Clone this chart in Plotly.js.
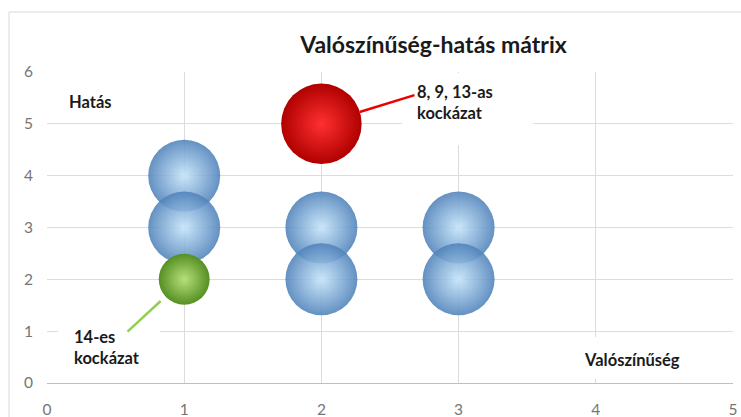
<!DOCTYPE html>
<html>
<head>
<meta charset="utf-8">
<script src="https://cdn.plot.ly/plotly-3.0.1.min.js"></script>
<style>
html,body{margin:0;padding:0;background:#fff;}
#chart{width:741px;height:417px;}
</style>
</head>
<body>
<div id="chart"></div>
<script>
// Data
const blueX = [1, 1, 2, 2, 3, 3];
const blueY = [4, 3, 3, 2, 3, 2];
const blueV = [8, 8, 8, 8, 8, 8];
const redX = [2];
const redY = [5];
const redV = [10];
const greenX = [1];
const greenY = [2];
const greenV = [4];
const xTicks = [0, 1, 2, 3, 4, 5];
const yTicks = [0, 1, 2, 3, 4, 5, 6];
const titleText = 'Valószínűség-hatás mátrix';
const xLabel = 'Valószínűség';
const yLabel = 'Hatás';
const redLabel = '8, 9, 13-as<br>kockázat';
const greenLabel = '14-es<br>kockázat';

const FONT = 'Lato, "Open Sans", sans-serif';
const SREF = 8 / 2592;

function bubble(x, y, v, edge, center, op) {
  return {
    type: 'scatter', mode: 'markers', x: x, y: y, hoverinfo: 'skip',
    marker: {
      size: v, sizemode: 'area', sizeref: SREF,
      color: edge, opacity: op,
      gradient: {type: 'radial', color: center},
      line: {width: 0}
    }
  };
}

const traces = [
  bubble(blueX, blueY, blueV, '#4f82ba', '#c4e4fa', 0.88),
  bubble(greenX, greenY, greenV, '#558f24', '#b8e07a', 1),
  bubble(redX, redY, redV, '#b00000', '#ff3030', 1)
];

const lblFont = {family: FONT, size: 16.5, color: '#1a1a1a', weight: 'bold'};

const layout = {
  width: 741, height: 417,
  margin: {l: 47, r: 8, t: 72, b: 34},
  paper_bgcolor: 'rgba(0,0,0,0)', plot_bgcolor: 'rgba(0,0,0,0)',
  showlegend: false,
  title: {
    text: '<b>' + titleText + '</b>',
    font: {family: FONT, size: 23, color: '#1a1a1a'},
    xref: 'container', yref: 'container',
    x: 0.585, xanchor: 'center', y: 0.892, yanchor: 'middle'
  },
  xaxis: {
    range: [0, 5], tickvals: xTicks, ticktext: xTicks.map(String),
    showgrid: true, gridcolor: '#dcdcdc', gridwidth: 1,
    zeroline: false, showline: true, linecolor: '#bfbfbf', linewidth: 1,
    ticks: '', ticklabelstandoff: 12,
    tickfont: {family: FONT, size: 15.5, color: '#757575'},
    fixedrange: true
  },
  yaxis: {
    range: [0, 6], tickvals: yTicks, ticktext: yTicks.map(String),
    showgrid: true, gridcolor: '#dcdcdc', gridwidth: 1,
    zeroline: false, showline: false,
    ticks: '', ticklabelstandoff: 13,
    tickfont: {family: FONT, size: 15.5, color: '#757575'},
    fixedrange: true
  },
  shapes: [
    {type: 'rect', xref: 'paper', yref: 'paper', x0: -0.0554, x1: 1.2, y0: -0.5, y1: 1.193,
     line: {color: '#d9d9d9', width: 1}, fillcolor: 'rgba(0,0,0,0)', layer: 'below'}
  ],
  annotations: [
    // blank label boxes
    {x: 3.065, y: 5.287, xref: 'x', yref: 'y', text: ' ', showarrow: false,
     width: 131, height: 72, bgcolor: '#ffffff', borderpad: 0, borderwidth: 0,
     xanchor: 'center', yanchor: 'middle'},
    {x: 0.452, y: 0.733, xref: 'x', yref: 'y', text: ' ', showarrow: false,
     width: 102, height: 52, bgcolor: '#ffffff', borderpad: 0, borderwidth: 0,
     xanchor: 'center', yanchor: 'middle'},
    {x: 4.322, y: 0.482, xref: 'x', yref: 'y', text: ' ', showarrow: false,
     width: 140, height: 42, bgcolor: '#ffffff', borderpad: 0, borderwidth: 0,
     xanchor: 'center', yanchor: 'middle'},
    // texts
    {x: 2.689, y: 5.412, xref: 'x', yref: 'y', text: '<b>' + redLabel + '</b>', showarrow: false,
     xanchor: 'left', yanchor: 'middle', align: 'left', borderpad: 0, font: lblFont},
    {x: 0.1895, y: 0.685, xref: 'x', yref: 'y', text: '<b>' + greenLabel + '</b>', showarrow: false,
     xanchor: 'left', yanchor: 'middle', align: 'left', borderpad: 0, font: lblFont},
    {x: 3.907, y: 0.444, xref: 'x', yref: 'y', text: '<b>' + xLabel + '</b>', showarrow: false,
     xanchor: 'left', yanchor: 'middle', align: 'left', borderpad: 0, font: lblFont},
    {x: 0.153, y: 5.42, xref: 'x', yref: 'y', text: '<b>' + yLabel + '</b>', showarrow: false,
     xanchor: 'left', yanchor: 'middle', align: 'left', borderpad: 0, font: lblFont},
    // leader lines
    {x: redX[0], y: redY[0], xref: 'x', yref: 'y', text: ' ', font: {size: 1},
     showarrow: true, arrowhead: 0, arrowwidth: 2.5, arrowcolor: '#ee0000',
     ax: 93.6, ay: -28.9, standoff: 40, borderpad: 0},
    {x: greenX[0], y: greenY[0], xref: 'x', yref: 'y', text: ' ', font: {size: 1},
     showarrow: true, arrowhead: 0, arrowwidth: 2.5, arrowcolor: '#92d050',
     ax: -57.2, ay: 52.7, standoff: 32, borderpad: 0}
  ]
};

Plotly.newPlot('chart', traces, layout, {displayModeBar: false, staticPlot: true});
</script>
</body>
</html>
